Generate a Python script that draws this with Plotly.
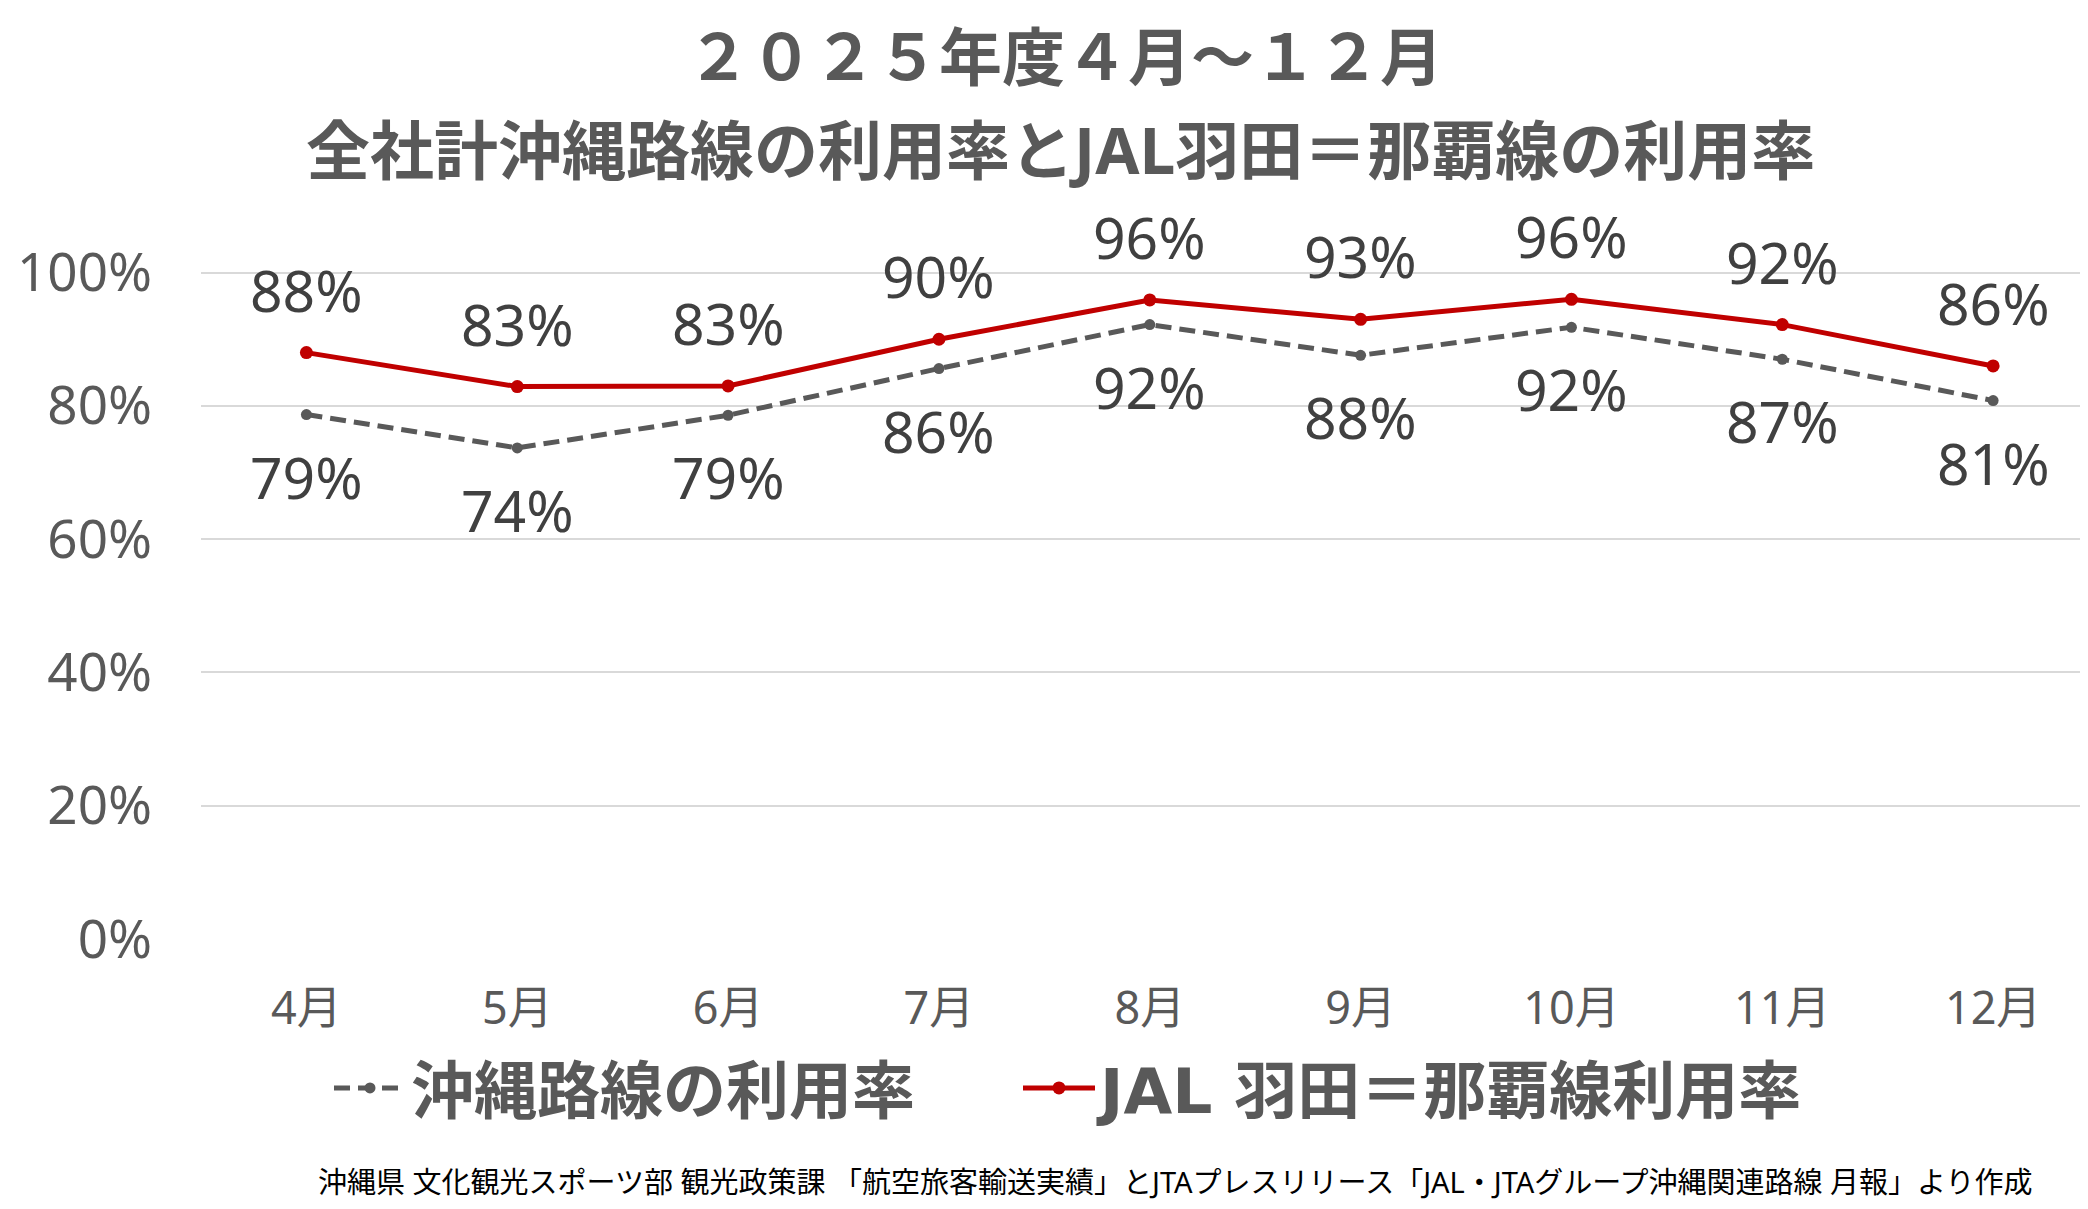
import plotly.graph_objects as go

# ---- data ----
months = ["4月", "5月", "6月", "7月", "8月", "9月", "10月", "11月", "12月"]
okinawa_rate = [0.787, 0.737, 0.786, 0.856, 0.922, 0.876, 0.918, 0.870, 0.808]
jal_hnd_oka_rate = [0.880, 0.829, 0.830, 0.900, 0.959, 0.930, 0.960, 0.922, 0.860]
y_ticks = [0, 0.2, 0.4, 0.6, 0.8, 1.0]
y_tick_labels = ["0%", "20%", "40%", "60%", "80%", "100%"]
name_okinawa = "沖縄路線の利用率"
name_jal = "JAL 羽田＝那覇線利用率"
title_1 = "２０２５年度４月～１２月"
title_2 = "全社計沖縄路線の利用率とJAL羽田＝那覇線の利用率"
source = "沖縄県 文化観光スポーツ部 観光政策課 「航空旅客輸送実績」とJTAプレスリリース「JAL・JTAグループ沖縄関連路線 月報」より作成"

# ---- geometry (page body has an 8px margin) ----
OFF = 8
W, H = 2088, 1209
L, T = 201 - OFF, 206 - OFF
R = OFF
B = H - (939 - OFF)
PW, PH = W - L - R, H - T - B


def px_x(x):
    return (x - OFF - L) / PW


def px_y(y):
    return (H - B - (y - OFF)) / PH


FONT = "Noto Sans, Noto Sans CJK JP, sans-serif"
LEGEND_FONT = "DejaVu Sans, Noto Sans CJK JP, sans-serif"
GRAY = "#595959"
RED = "#C00000"

fig = go.Figure()
fig.add_trace(go.Scatter(
    x=months, y=okinawa_rate, name=name_okinawa, mode="lines+markers", legend="legend",
    line=dict(color=GRAY, width=5, dash="16px,8px"),
    marker=dict(size=11, color=GRAY, symbol="circle"),
))
fig.add_trace(go.Scatter(
    x=months, y=jal_hnd_oka_rate, name=name_jal, mode="lines+markers", legend="legend2",
    line=dict(color=RED, width=5),
    marker=dict(size=13, color=RED, symbol="circle"),
))

annotations = []
for m, v in zip(months, jal_hnd_oka_rate):
    annotations.append(dict(x=m, y=v, xref="x", yref="y", text=f"{round(v*100)}%",
                            showarrow=False, yshift=63, yanchor="middle",
                            font=dict(family=FONT, size=57, color="#404040")))
for m, v in zip(months, okinawa_rate):
    annotations.append(dict(x=m, y=v, xref="x", yref="y", text=f"{round(v*100)}%",
                            showarrow=False, yshift=-62, yanchor="middle",
                            font=dict(family=FONT, size=57, color="#404040")))

annotations.append(dict(x=px_x(1065), y=px_y(55), xref="paper", yref="paper", text=f"<b>{title_1}</b>",
                        showarrow=False, xanchor="center", yanchor="middle",
                        font=dict(family=FONT, size=63, color=GRAY)))
annotations.append(dict(x=px_x(1060), y=px_y(150), xref="paper", yref="paper", text=f"<b>{title_2}</b>",
                        showarrow=False, xanchor="center", yanchor="middle",
                        font=dict(family=FONT, size=64, color=GRAY)))
annotations.append(dict(x=px_x(2035), y=px_y(1181), xref="paper", yref="paper", text=source,
                        showarrow=False, xanchor="right", yanchor="middle",
                        font=dict(family=FONT, size=29, color="#000000")))

legend_common = dict(orientation="h", yanchor="middle", xanchor="left",
                     font=dict(family=LEGEND_FONT, size=63, color=GRAY, weight="bold"),
                     itemwidth=72, bgcolor="rgba(0,0,0,0)")

fig.update_layout(
    width=W, height=H,
    margin=dict(l=L, r=R, t=T, b=B, pad=0),
    paper_bgcolor="white", plot_bgcolor="white",
    font=dict(family=FONT, color=GRAY),
    showlegend=True,
    legend=dict(x=px_x(329), y=px_y(1088), **legend_common),
    legend2=dict(x=px_x(1018), y=px_y(1088), **legend_common),
    annotations=annotations,
    xaxis=dict(type="category", range=[-0.5, 8.45], showgrid=False, showline=False, zeroline=False,
               tickfont=dict(family=FONT, size=45, color=GRAY), ticks="", ticklabelstandoff=39),
    yaxis=dict(range=[0, 1.1], tickvals=y_ticks, ticktext=y_tick_labels, showgrid=True,
               gridcolor="#D9D9D9", gridwidth=2, zeroline=False, showline=False,
               tickfont=dict(family=FONT, size=53, color=GRAY), ticks="", ticklabelstandoff=48),
)

fig.write_html("out.html")
